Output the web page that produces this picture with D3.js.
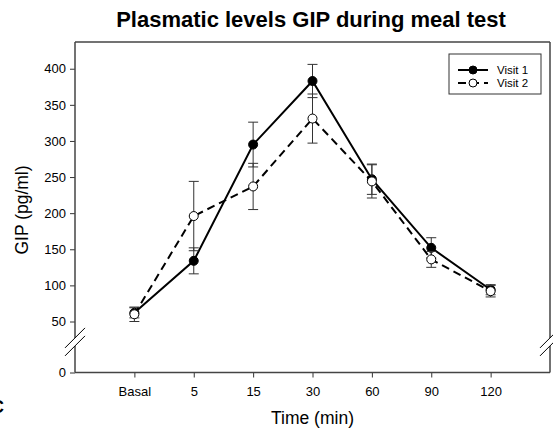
<!DOCTYPE html>
<html lang="en">
<head>
    <meta charset="UTF-8">
    <title>Plasmatic levels GIP during meal test</title>
    <style>
        body { margin: 0; background: #fff; }
        text { font-family: 'Liberation Sans', Arial, sans-serif; fill: #000; }
        .frame { stroke: #444; stroke-width: 1.5px; fill: none; }
        .tick line { stroke: #333; }
        .tick text { font-size: 13px; }
        .errbar { stroke: #333; stroke-width: 1px; fill: none; }
        .series { fill: none; stroke: #000; stroke-width: 2px; }
    </style>
</head>
<body>

<script src="https://d3js.org/d3.v7.min.js"></script>

<script>

    const width = 553;
    const height = 430;
    const margin = {'left': 75, 'right': 550, 'top': 42, 'bottom': 372.5};

    const timeLabels = ['Basal', '5', '15', '30', '60', '90', '120'];
    const visit1 = [62, 134, 295, 383, 247, 152, 94];
    const visit1Err = [7, 18, 31, 23, 21, 14, 7];
    const visit2 = [60, 196, 237, 331, 244, 136, 92];
    const visit2Err = [10, 48, 32, 34, 23, 11, 8];
    const yTicks = [0, 50, 100, 150, 200, 250, 300, 350, 400];
    const seriesNames = ['Visit 1', 'Visit 2'];
    const breakValue = 30;

    let svg = d3.select('body').append('svg')
        .attr('width', width)
        .attr('height', height);

    let x = d3.scaleLinear()
        .domain([-1, timeLabels.length])
        .range([margin.left, margin.right]);

    // broken axis: 0..50 squeezed, 50..top linear
    let y = d3.scaleLinear()
        .domain([0, 50, 437])
        .range([margin.bottom, 321.5, margin.top]);

    // title
    svg.append('text')
        .attr('x', 311)
        .attr('y', 27)
        .attr('text-anchor', 'middle')
        .style('font-size', '22px')
        .style('font-weight', 'bold')
        .text('Plasmatic levels GIP during meal test');

    // axes
    let yAxis = svg.append('g')
        .attr('transform', 'translate(' + margin.left + ',0)')
        .call(d3.axisLeft(y).tickValues(yTicks).tickSize(5).tickPadding(4));
    yAxis.select('.domain').remove();

    let xAxis = svg.append('g')
        .attr('transform', 'translate(0,' + margin.bottom + ')')
        .call(d3.axisBottom(x).tickValues(d3.range(timeLabels.length))
            .tickFormat(function(i) { return timeLabels[i]; })
            .tickSize(5).tickPadding(9));
    xAxis.select('.domain').remove();

    // frame with breaks on the vertical sides
    let yb = y(breakValue);
    let gap = 4;
    let frame = svg.append('g');
    frame.append('line').attr('class', 'frame')
        .attr('x1', margin.left).attr('x2', margin.right)
        .attr('y1', margin.top).attr('y2', margin.top);
    frame.append('line').attr('class', 'frame')
        .attr('x1', margin.left).attr('x2', margin.right)
        .attr('y1', margin.bottom).attr('y2', margin.bottom);
    [margin.left, margin.right].forEach(function(xx) {
        frame.append('line').attr('class', 'frame')
            .attr('x1', xx).attr('x2', xx)
            .attr('y1', margin.top).attr('y2', yb - gap);
        frame.append('line').attr('class', 'frame')
            .attr('x1', xx).attr('x2', xx)
            .attr('y1', yb + gap).attr('y2', margin.bottom);
        [-gap, gap].forEach(function(d) {
            frame.append('line')
                .attr('x1', xx - 10).attr('x2', xx + 10)
                .attr('y1', yb + d + 10).attr('y2', yb + d - 10)
                .style('stroke', '#000')
                .style('stroke-width', '1px');
        });
    });

    // axis titles
    svg.append('text')
        .attr('transform', 'translate(28,' + 210 + ') rotate(-90)')
        .attr('text-anchor', 'middle')
        .style('font-size', '17.5px')
        .text('GIP (pg/ml)');

    svg.append('text')
        .attr('x', (margin.left + margin.right) / 2)
        .attr('y', 424)
        .attr('text-anchor', 'middle')
        .style('font-size', '17.5px')
        .text('Time (min)');

    // panel letter cut at the page edge
    svg.append('text')
        .attr('x', -9)
        .attr('y', 413)
        .style('font-size', '18px')
        .style('font-weight', 'bold')
        .text('C');

    function drawSeries(values, errors, dashed, filled) {
        let g = svg.append('g');
        let pts = values.map(function(v, i) { return [x(i), y(v)]; });

        g.append('path')
            .datum(pts)
            .attr('class', 'series')
            .style('stroke-dasharray', dashed ? '8,5' : null)
            .attr('d', d3.line());

        values.forEach(function(v, i) {
            let cx = x(i);
            g.append('line').attr('class', 'errbar')
                .attr('x1', cx).attr('x2', cx)
                .attr('y1', y(v - errors[i])).attr('y2', y(v + errors[i]));
            [v - errors[i], v + errors[i]].forEach(function(e) {
                g.append('line').attr('class', 'errbar')
                    .attr('x1', cx - 5).attr('x2', cx + 5)
                    .attr('y1', y(e)).attr('y2', y(e));
            });
        });

        g.selectAll('circle')
            .data(values)
            .enter().append('circle')
            .attr('cx', function(d, i) { return x(i); })
            .attr('cy', function(d) { return y(d); })
            .attr('r', 4.5)
            .style('fill', filled ? '#000' : '#fff')
            .style('stroke', '#000')
            .style('stroke-width', '1px');
    }

    drawSeries(visit1, visit1Err, false, true);
    drawSeries(visit2, visit2Err, true, false);

    // legend
    let legend = svg.append('g');
    legend.append('rect')
        .attr('x', 449).attr('y', 54)
        .attr('width', 92).attr('height', 40)
        .style('fill', '#fff')
        .style('stroke', '#333')
        .style('stroke-width', '1px');

    seriesNames.forEach(function(name, i) {
        let ly = 70 + i * 13;
        legend.append('line')
            .attr('x1', 458).attr('x2', 488)
            .attr('y1', ly).attr('y2', ly)
            .style('stroke', '#000')
            .style('stroke-width', '2px')
            .style('stroke-dasharray', i === 1 ? '8,5' : null);
        legend.append('circle')
            .attr('cx', 473).attr('cy', ly)
            .attr('r', 4)
            .style('fill', i === 0 ? '#000' : '#fff')
            .style('stroke', '#000');
        legend.append('text')
            .attr('x', 497).attr('y', ly + 4)
            .style('font-size', '11.5px')
            .text(name);
    });

</script>

</body>
</html>
